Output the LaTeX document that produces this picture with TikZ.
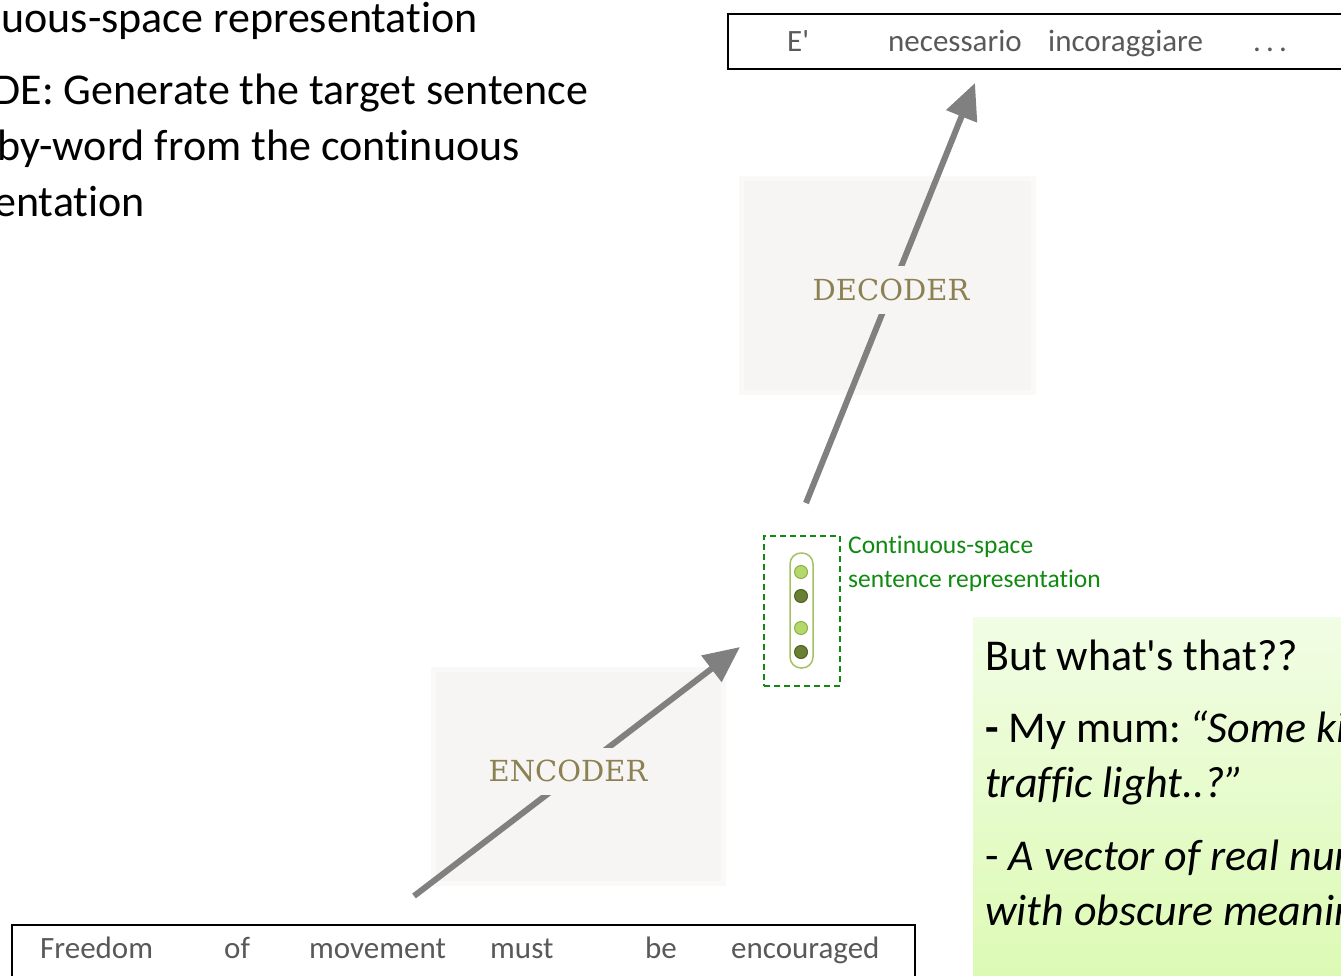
\documentclass[tikz,border=0pt]{standalone}
\usepackage{fontspec}
\setmainfont{Carlito}[Ligatures={NoCommon}]
\newfontfamily\slabfont{DejaVu Serif}
\usetikzlibrary{arrows.meta}
\definecolor{flowgray}{HTML}{808080}
\definecolor{boxfill}{HTML}{F6F5F3}
\definecolor{boxedge}{HTML}{FAF9F8}
\definecolor{stageolive}{HTML}{8C8152}
\definecolor{wordgray}{HTML}{595959}
\definecolor{repgreen}{HTML}{118A11}
\definecolor{lightdot}{HTML}{B4D96A}
\definecolor{lightdotline}{HTML}{8DAF4A}
\definecolor{darkdot}{HTML}{6B7F33}
\definecolor{darkdotline}{HTML}{4F6224}
\definecolor{pillline}{HTML}{A4C263}
\definecolor{notetop}{HTML}{F1FDE4}
\definecolor{notebot}{HTML}{DCFAB3}
\begin{document}
\begin{tikzpicture}[x=1pt,y=-1pt,
  wordtext/.style={anchor=base west, inner sep=0pt, text=wordgray, font=\fontsize{31}{31}\selectfont},
  slidetext/.style={anchor=base east, inner sep=0pt, font=\fontsize{44}{44}\selectfont},
  notetext/.style={anchor=base west, inner sep=0pt, font=\fontsize{44}{44}\selectfont},
  stagebox/.style={fill=boxfill, draw=boxedge, line width=5pt},
  stagelabel/.style={fill=boxfill, text=stageolive, inner xsep=1pt, inner ysep=0pt,
    minimum height=47pt, font=\slabfont\fontsize{29}{29}\selectfont},
  flow/.style={draw=flowgray, line width=6pt, -{Triangle[length=36pt, width=32pt]}},
  sentbox/.style={draw=black, line width=1.6pt, anchor=north west, inner sep=0pt},
  replabel/.style={anchor=base west, inner sep=0pt, text=repgreen, font=\fontsize{25.5}{25.5}\selectfont},
  lightcell/.style={circle, inner sep=0pt, minimum size=13pt, fill=lightdot, draw=lightdotline, line width=1pt},
  darkcell/.style={circle, inner sep=0pt, minimum size=13pt, fill=darkdot, draw=darkdotline, line width=1pt}]
\useasboundingbox (0,0) rectangle (1341,976);
\clip (0,0) rectangle (1341,976);
\fill[white] (0,0) rectangle (1341,976);

% slide text, running off the left edge
\node[slidetext] (s1) at (478,33) {continuous-space representation};
\node[slidetext] (s2) at (588,105) {DECODE: Generate the target sentence};
\node[slidetext] (s3) at (520,161) {word-by-word from the continuous};
\node[slidetext] (s4) at (145,217) {representation};

% target sentence
\node[sentbox, minimum width=640pt, minimum height=55pt] (tgt) at (727,13) {};
\node[wordtext] (t1) at (787,52) {E\textquotesingle};
\node[wordtext] (t2) at (888,52) {necessario};
\node[wordtext] (t3) at (1048,52) {incoraggiare};
\node[wordtext] (t4) at (1253,52) {.\,.\,.};

% source sentence
\node[sentbox, minimum width=903pt, minimum height=80pt] (src) at (11,924) {};
\node[wordtext] (w1) at (40,958) {Freedom};
\node[wordtext] (w2) at (224,958) {of};
\node[wordtext] (w3) at (309,958) {movement};
\node[wordtext] (w4) at (490,958) {must};
\node[wordtext] (w5) at (645,958) {be};
\node[wordtext] (w6) at (731,958) {encouraged};

% encoder and decoder panels
\node[stagebox, minimum width=290pt, minimum height=214pt] (encbox) at (578,776) {};
\node[stagebox, minimum width=292pt, minimum height=213pt] (decbox) at (887,285.5) {};

% sentence vector
\node[draw=repgreen, dash pattern=on 6pt off 4pt, line width=1.5pt,
      minimum width=76pt, minimum height=150pt, inner sep=0pt] (vec) at (802,611) {};
\node[draw=pillline, line width=1.5pt, rounded corners=11pt, fill=white,
      minimum width=23pt, minimum height=115pt, inner sep=0pt] (pill) at (801.5,610.5) {};
\node[lightcell] (c1) at (801,572) {};
\node[darkcell]  (c2) at (801,596) {};
\node[lightcell] (c3) at (801,628) {};
\node[darkcell]  (c4) at (801,652) {};
\node[replabel] (r1) at (848,553) {Continuous-space};
\node[replabel] (r2) at (848,587) {sentence representation};

% flow arrows
\coordinate (encTail) at (414,896);
\coordinate (encTip) at (740,647);
\coordinate (decTail) at (806,503);
\coordinate (decTip) at (975,83);
\draw[flow] (encTail) -- (encTip);
\draw[flow] (decTail) -- (decTip);
\node[stagelabel] (enclabel) at (568,771) {ENCODER};
\node[stagelabel] (declabel) at (891,290) {DECODER};

% note box
\node[anchor=north west, top color=notetop, bottom color=notebot, draw=none,
      minimum width=380pt, minimum height=370pt, inner sep=0pt] (note) at (973,617) {};
\node[notetext] (n1) at (985,670) {But what\textquotesingle s that??};
\node[notetext] (n2) at (985,742) {\textbf{-} My mum: \kern-5pt\textit{“Some kind of}};
\node[notetext] (n3) at (985,797) {\textit{traffic light..?”}};
\node[notetext] (n4) at (985,870) {- \textit{A vector of real numbers}};
\node[notetext] (n5) at (985,925) {\textit{with obscure meaning}};
\end{tikzpicture}
\end{document}
